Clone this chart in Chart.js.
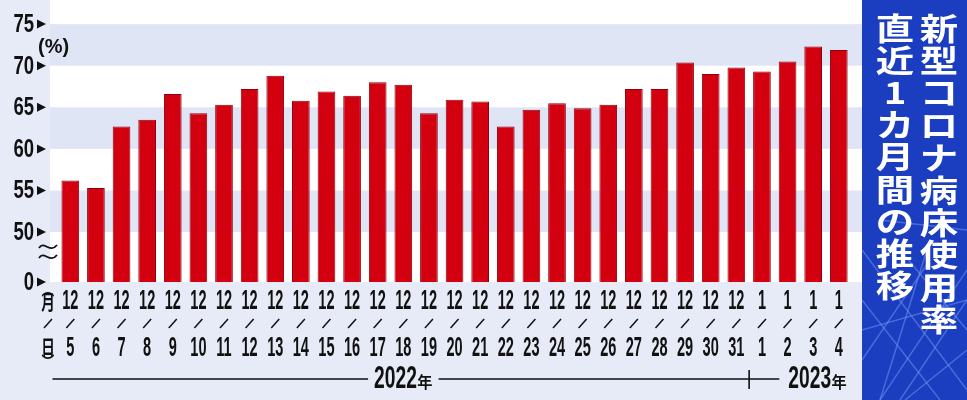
<!DOCTYPE html>
<html>
<head>
<meta charset="utf-8">
<script src="https://cdn.jsdelivr.net/npm/chart.js@4.4.1/dist/chart.umd.min.js"></script>
<style>
  html, body { margin: 0; padding: 0; background: #e6ebf7; }
  #wrap { width: 967px; height: 400px; }
</style>
</head>
<body>
<div id="wrap"><canvas id="mainChart" width="967" height="400"></canvas></div>
<script>
// data
const months = [12,12,12,12,12,12,12,12,12,12,12,12,12,12,12,12,12,12,12,12,12,12,12,12,12,12,12,1,1,1,1];
const days   = [5,6,7,8,9,10,11,12,13,14,15,16,17,18,19,20,21,22,23,24,25,26,27,28,29,30,31,1,2,3,4];
const usage  = [56.2,55.3,62.7,63.5,66.6,64.3,65.3,67.2,68.8,65.8,66.9,66.4,68.0,67.7,64.3,
                65.9,65.7,62.7,64.7,65.5,64.9,65.3,67.2,67.2,70.4,69.0,69.8,69.3,70.5,72.3,71.9];
const yTicks = [50,55,60,65,70,75];
const bands  = [[70,75],[60,65],[50,55]];
const years  = ['2022','2023'];
const titleRight = '新型コロナ病床使用率';
const titleLeft  = '直近1カ月間の推移';

const AXIS_BASE = 44;   // the "0" sits here, below the axis break
const FONT_NUM = '"Liberation Sans",Arial,sans-serif';
const FONT_JP  = '"Noto Sans CJK JP",sans-serif';
const PANEL_X = 862;

function squeeze(ctx, str, x, y, size, sx, align, family, sy) {
  ctx.save();
  ctx.font = 'bold ' + size + 'px ' + (family || FONT_NUM);
  ctx.textAlign = align || 'center';
  ctx.textBaseline = 'middle';
  ctx.translate(x, y);
  ctx.scale(sx, sy || 1);
  ctx.fillText(str, 0, 0);
  ctx.restore();
}

function textWidth(ctx, str, size, sx, family) {
  ctx.save();
  ctx.font = 'bold ' + size + 'px ' + (family || FONT_NUM);
  const w = ctx.measureText(str).width * sx;
  ctx.restore();
  return w;
}

const backdrop = {
  id: 'backdrop',
  beforeDatasetsDraw(chart) {
    const { ctx, chartArea, scales: { y } } = chart;
    ctx.save();
    ctx.fillStyle = '#ffffff';
    ctx.fillRect(chartArea.left - 7.5, 0, PANEL_X - chartArea.left + 7.5, chartArea.bottom);
    ctx.fillStyle = '#e0e5f6';
    bands.forEach(([lo, hi]) => {
      const top = y.getPixelForValue(hi), bot = y.getPixelForValue(lo);
      ctx.fillRect(chartArea.left - 7.5, top, PANEL_X - chartArea.left + 7.5, bot - top);
    });
    ctx.restore();
  }
};

const axes = {
  id: 'axes',
  afterDraw(chart) {
    const { ctx, chartArea, scales: { x, y } } = chart;
    ctx.save();
    ctx.fillStyle = '#111';
    ctx.strokeStyle = '#111';

    // y labels with arrow heads
    const yLabels = [[AXIS_BASE, '0']].concat(yTicks.map(v => [v, String(v)]));
    yLabels.forEach(([v, txt]) => {
      const py = y.getPixelForValue(v);
      squeeze(ctx, txt, 34, py + 1, 25, 0.74, 'right');
      ctx.beginPath();
      ctx.moveTo(37, py - 4.5);
      ctx.lineTo(37, py + 4.5);
      ctx.lineTo(46, py);
      ctx.closePath();
      ctx.fill();
    });
    ctx.font = 'bold 20px "Liberation Sans",sans-serif';
    ctx.textAlign = 'left';
    ctx.textBaseline = 'middle';
    ctx.fillText('(%)', 38, 47);

    // axis break
    ctx.lineWidth = 1.8;
    [247, 257].forEach(wy => {
      ctx.beginPath();
      ctx.moveTo(39, wy + 1);
      ctx.bezierCurveTo(44, wy - 7, 50, wy + 7, 57, wy - 2);
      ctx.stroke();
    });

    // x labels
    ctx.lineWidth = 1.5;
    months.forEach((m, i) => {
      const px = x.getPixelForValue(i);
      squeeze(ctx, String(m), px, 301, 28, 0.52);
      ctx.beginPath();
      ctx.moveTo(px - 4, 328);
      ctx.lineTo(px + 4, 319);
      ctx.stroke();
      squeeze(ctx, String(days[i]), px, 348, 28, 0.52);
    });
    // unit (月/日)
    squeeze(ctx, '︵', 48, 289, 16, 0.8, 'center', FONT_JP);
    squeeze(ctx, '月', 48, 302, 20, 0.68, 'center', FONT_JP);
    ctx.beginPath();
    ctx.moveTo(44, 328);
    ctx.lineTo(52, 319);
    ctx.stroke();
    squeeze(ctx, '日', 48, 347, 20, 0.68, 'center', FONT_JP);
    squeeze(ctx, '︶', 48, 362, 16, 0.8, 'center', FONT_JP);

    // year line
    const split = months.indexOf(1);
    const ly = 379;
    const drawYear = (yr, left) => {
      const dw = textWidth(ctx, yr, 31, 0.62);
      squeeze(ctx, yr, left, ly, 31, 0.62, 'left');
      squeeze(ctx, '年', left + dw + 0.5, ly + 3, 16, 0.95, 'left', FONT_JP);
    };
    const yearWidth = yr => textWidth(ctx, yr, 31, 0.62) + 0.5 + textWidth(ctx, '年', 16, 0.95, FONT_JP);
    const w1 = yearWidth(years[0]);
    const w2 = yearWidth(years[1]);
    const mid1 = (x.getPixelForValue(0) + x.getPixelForValue(split - 1)) / 2;
    const l1 = mid1 - w1 / 2;
    const r2 = x.getPixelForValue(months.length - 1) + 8;
    const l2 = r2 - w2;
    drawYear(years[0], l1);
    drawYear(years[1], l2);
    const sx = (x.getPixelForValue(split - 1) + x.getPixelForValue(split)) / 2;
    ctx.lineWidth = 1.6;
    ctx.beginPath();
    ctx.moveTo(chartArea.left - 5, ly);
    ctx.lineTo(l1 - 6, ly);
    ctx.moveTo(l1 + w1 + 6, ly);
    ctx.lineTo(l2 - 9, ly);
    ctx.moveTo(sx, ly - 9);
    ctx.lineTo(sx, ly + 10);
    ctx.stroke();
    ctx.restore();
  }
};

const panel = {
  id: 'panel',
  afterDraw(chart) {
    const { ctx } = chart;
    ctx.save();
    ctx.fillStyle = '#1b3dbf';
    ctx.fillRect(PANEL_X, 0, 967 - PANEL_X, 400);
    ctx.beginPath();
    ctx.rect(PANEL_X, 0, 967 - PANEL_X, 400);
    ctx.clip();
    ctx.strokeStyle = 'rgba(110,145,240,0.55)';
    ctx.lineWidth = 1.5;
    [[862,250,967,390],[862,300,940,400],[880,400,967,270],[862,360,930,260],
     [900,250,967,330],[862,330,967,300],[905,400,967,350],[930,240,880,400],
     [967,300,900,400],[880,220,967,230]].forEach(([a,b,c,d]) => {
      ctx.beginPath();
      ctx.moveTo(a, b);
      ctx.lineTo(c, d);
      ctx.stroke();
    });
    ctx.fillStyle = '#ffffff';
    [...titleRight].forEach((ch, i) => {
      squeeze(ctx, ch, 939, 28 + i * 32.4, 32, 1.2, 'center', FONT_JP, 0.95);
    });
    [...titleLeft].forEach((ch, i) => {
      squeeze(ctx, ch, 895, 28 + i * 32.2, 32, 1.2, 'center', FONT_JP, 0.95);
    });
    ctx.restore();
  }
};

const ctx = document.getElementById('mainChart').getContext('2d');
new Chart(ctx, {
  type: 'bar',
  data: {
    labels: months.map((m, i) => m + '/' + days[i]),
    datasets: [{
      data: usage,
      backgroundColor: '#d3000f',
      borderColor: '#8e0010',
      borderWidth: 1,
      barPercentage: 0.69,
      categoryPercentage: 1
    }]
  },
  options: {
    responsive: false,
    animation: false,
    layout: { padding: { left: 57.5, right: 115.4, top: 0, bottom: 118 } },
    plugins: { legend: { display: false }, tooltip: { enabled: false } },
    scales: {
      x: { display: false, offset: true, grid: { display: false } },
      y: { display: false, min: AXIS_BASE, max: 77.9, grid: { display: false } }
    }
  },
  plugins: [backdrop, axes, panel]
});
</script>
</body>
</html>
